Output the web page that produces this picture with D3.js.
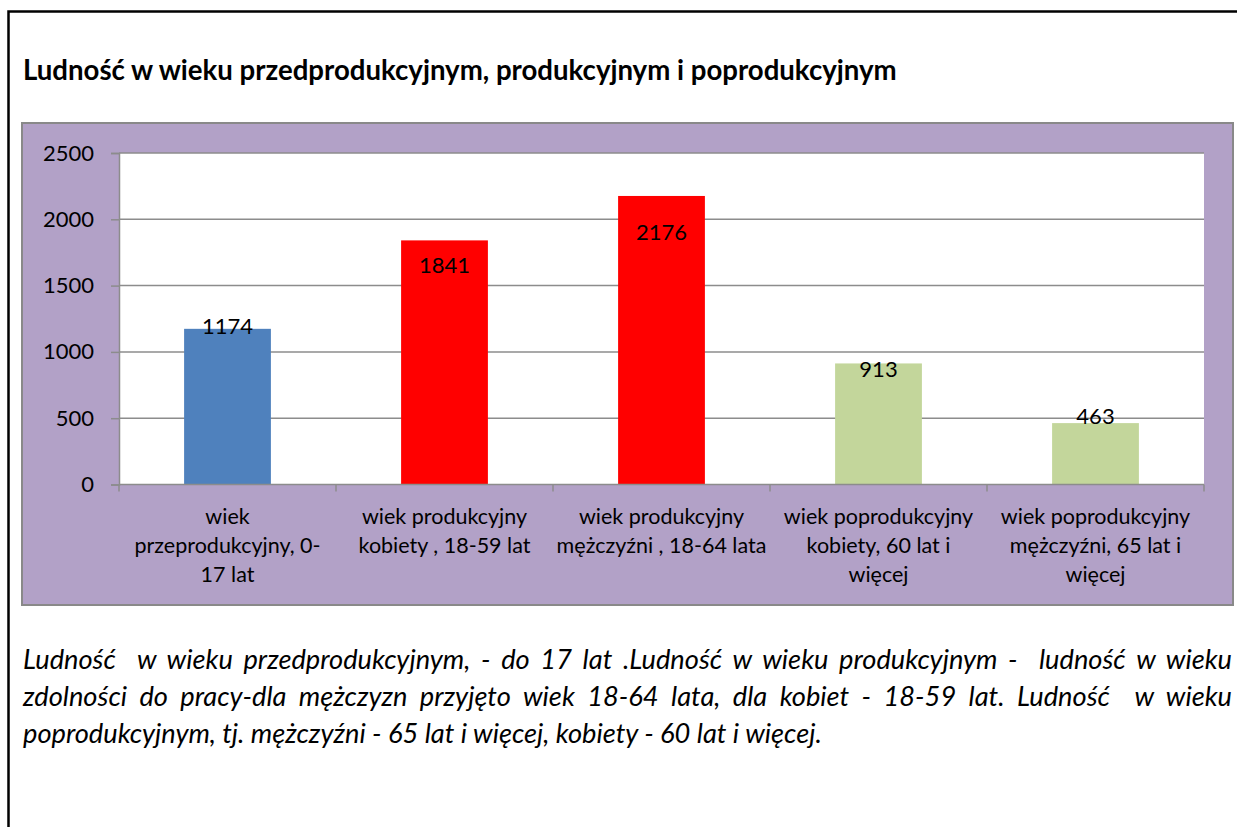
<!DOCTYPE html>
<html>
<head>
<meta charset="utf-8">
<script src="https://cdn.jsdelivr.net/npm/d3@7"></script>
<style>
  html, body { margin: 0; padding: 0; background: #ffffff; }
  svg { display: block; }
  text { font-family: Lato, "Open Sans", sans-serif; fill: #000; }
</style>
</head>
<body>
<svg id="chart" width="1237" height="827"></svg>
<script>
// ---- data ----
const titleText = "Ludność w wieku przedprodukcyjnym, produkcyjnym i poprodukcyjnym";
const categories = [
  "wiek\nprzeprodukcyjny, 0-\n17 lat",
  "wiek produkcyjny\nkobiety , 18-59 lat",
  "wiek produkcyjny\nmężczyźni , 18-64 lata",
  "wiek poprodukcyjny\nkobiety, 60 lat i\nwięcej",
  "wiek poprodukcyjny\nmężczyźni, 65 lat i\nwięcej"
];
const values = [1174, 1841, 2176, 913, 463];
const barColors = ["#4f81bd", "#ff0000", "#ff0000", "#c3d69b", "#c3d69b"];
const yTicks = [0, 500, 1000, 1500, 2000, 2500];
const labelShift = [5, 33, 44, 14, 1]; // baseline offset of value label below bar top (px)
const captionLines = [
  "Ludność  w wieku przedprodukcyjnym, - do 17 lat .Ludność w wieku produkcyjnym -  ludność w wieku",
  "zdolności do pracy-dla mężczyzn przyjęto wiek 18-64 lata, dla kobiet - 18-59 lat. Ludność  w wieku",
  "poprodukcyjnym, tj. mężczyźni - 65 lat i więcej, kobiety - 60 lat i więcej."
];

// ---- layout ----
const svg = d3.select("#chart");
const plot = { left: 119, right: 1204, top: 153, bottom: 484.5 };

// outer frame (extends beyond right/bottom of the view)
svg.append("rect").attr("x", 8.5).attr("y", 11.5).attr("width", 1400).attr("height", 1000)
  .attr("fill", "none").attr("stroke", "#000").attr("stroke-width", 2.5);

// title
const title = svg.append("text").attr("x", 23).attr("y", 80)
  .attr("font-weight", "bold").attr("font-size", 22).text(titleText);
(function fit() {
  const w = title.node().getComputedTextLength();
  title.attr("font-size", 22 * 874 / w);
})();

// chart area
svg.append("rect").attr("x", 22).attr("y", 123).attr("width", 1211).attr("height", 482)
  .attr("fill", "#b2a1c7").attr("stroke", "#898989").attr("stroke-width", 2);
svg.append("rect").attr("x", plot.left).attr("y", plot.top)
  .attr("width", plot.right - plot.left).attr("height", plot.bottom - plot.top)
  .attr("fill", "#ffffff");

const x = d3.scaleBand().domain(d3.range(values.length))
  .range([plot.left, plot.right]).paddingInner(0.6).paddingOuter(0.3);
const y = d3.scaleLinear().domain([0, 2500]).range([plot.bottom, plot.top]);

// gridlines
svg.append("g").selectAll("line").data(yTicks.filter(d => d > 0)).join("line")
  .attr("x1", plot.left).attr("x2", plot.right)
  .attr("y1", d => y(d)).attr("y2", d => y(d))
  .attr("stroke", "#8c8c8c").attr("stroke-width", 1.5);

// bars
svg.append("g").selectAll("rect").data(values).join("rect")
  .attr("x", (d, i) => x(i)).attr("width", x.bandwidth())
  .attr("y", d => y(d)).attr("height", d => y(0) - y(d))
  .attr("fill", (d, i) => barColors[i]);

// y axis
const yAxis = d3.axisLeft(y).tickValues(yTicks).tickSize(8).tickPadding(17).tickFormat(d3.format("d"));
const gy = svg.append("g").attr("transform", `translate(${plot.left},0)`).call(yAxis);
gy.select(".domain").attr("stroke", "#8c8c8c").attr("stroke-width", 1.5);
gy.selectAll(".tick line").attr("stroke", "#8c8c8c").attr("stroke-width", 1.5);
gy.selectAll(".tick text").attr("font-size", 22).attr("font-family", "Lato").attr("fill", "#000");

// x axis
const step = x.step();
const bounds = d3.range(values.length + 1).map(i => plot.left + i * step);
svg.append("line").attr("x1", plot.left).attr("x2", plot.right)
  .attr("y1", plot.bottom).attr("y2", plot.bottom)
  .attr("stroke", "#8c8c8c").attr("stroke-width", 1.5);
svg.append("g").selectAll("line").data(bounds).join("line")
  .attr("x1", d => d).attr("x2", d => d)
  .attr("y1", plot.bottom).attr("y2", plot.bottom + 7)
  .attr("stroke", "#8c8c8c").attr("stroke-width", 1.5);

// category labels
const cat = svg.append("g").selectAll("text").data(categories).join("text")
  .attr("text-anchor", "middle").attr("font-size", 21.5)
  .attr("transform", (d, i) => `translate(${x(i) + x.bandwidth() / 2},0)`);
cat.selectAll("tspan").data(d => d.split("\n")).join("tspan")
  .attr("x", 0).attr("y", (d, j) => 524 + j * 29).text(d => d);

// value labels
svg.append("g").selectAll("text").data(values).join("text")
  .attr("text-anchor", "middle").attr("font-size", 22)
  .attr("x", (d, i) => x(i) + x.bandwidth() / 2)
  .attr("y", (d, i) => y(d) + labelShift[i])
  .text(d => d);

// caption
const capLeft = 23, capRight = 1232;
const caps = svg.append("g").selectAll("text").data(captionLines).join("text")
  .attr("x", capLeft).attr("y", (d, i) => 669 + i * 37)
  .attr("font-style", "italic").attr("font-size", 21)
  .style("white-space", "pre").text(d => d);
(function fitCaption() {
  const nodes = caps.nodes();
  const w3 = nodes[2].getComputedTextLength();
  const fs = 21 * 799 / w3;
  caps.attr("font-size", fs);
  nodes.slice(0, 2).forEach(n => {
    const w = n.getComputedTextLength();
    const spaces = (n.textContent.match(/ /g) || []).length;
    const extra = (capRight - capLeft - w) / spaces;
    d3.select(n).attr("word-spacing", extra);
  });
})();
</script>
</body>
</html>
